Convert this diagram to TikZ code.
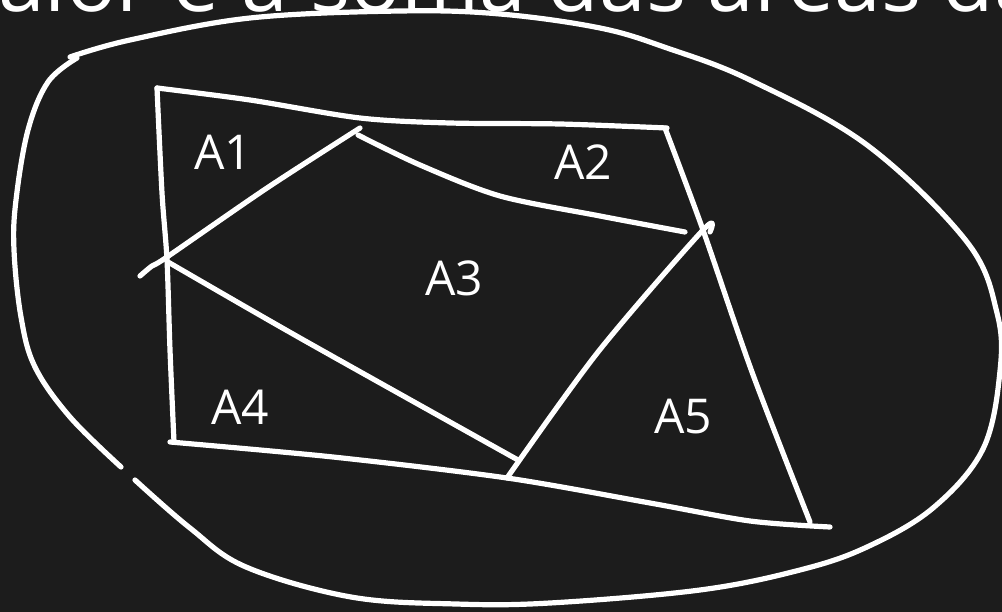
\documentclass[tikz,border=0pt]{standalone}
\usepackage{fontspec}
\setmainfont{Open Sans}
\usepackage{xcolor}
\usepackage{tikz}

\definecolor{board}{RGB}{28,28,28}
\tikzset{
  chalk/.style={white, line width=5.2pt, line cap=round, line join=round},
  arealabel/.style={text=white, font=\fontsize{48}{48}\selectfont, inner sep=0pt}
}

\begin{document}
\begin{tikzpicture}[x=1pt, y=-1pt]
            \fill[board] (0,0) rectangle (1002,612);
            \useasboundingbox (0,0) rectangle (1002,612);
            \clip (0,0) rectangle (1002,612);
            % heading, cut off by the top of the frame
            \node[anchor=base west, text=white, inner sep=0pt,
                  font=\fontsize{84}{90}\selectfont] (heading) at (-2,12) {alor é a soma das áreas da};
            % outer closed curve
            \draw[chalk] plot[smooth, tension=0.6] coordinates {(135,480) (190,528) (246,567) (351,597) (456,604) (550,603) (700,590) (800,570) (867,547) (933,508) (983,449) (1000,371) (997,313) (967,242) (867,145) (750,80) (667,48) (600,28) (500,14) (400,11) (250,18) (130,40) (70,57)};
            \draw[chalk] plot[smooth, tension=0.6] coordinates {(77,58) (48,82) (28,130) (16,200) (14,250) (21,317) (35,367) (70,417) (121,467)};
            % the region
            \draw[chalk] plot[smooth] coordinates {(157,88) (250,100) (360,118) (450,123) (560,124) (667,128)};
            \draw[chalk] plot[smooth] coordinates {(665,128) (703,230) (752,372) (810,522)};
            \draw[chalk] plot[smooth] coordinates {(170,442) (333,457) (507,478) (650,503) (750,521) (830,527)};
            \draw[chalk] plot[smooth] coordinates {(157,88) (162,193) (167,260) (170,350) (174,442)};
            % inner cuts
            \draw[chalk] plot[smooth] coordinates {(140,276) (152,266) (167,257) (267,188) (360,128)};
            \draw[chalk] plot[smooth] coordinates {(358,135) (420,165) (500,196) (600,216) (685,232)};
            \draw[chalk] plot[smooth] coordinates {(168,262) (300,338) (518,460)};
            \draw[chalk] plot[smooth] coordinates {(507,478) (598,352) (703,230) (710,232)};
            % areas
            \node[arealabel] (a1) at (223,152) {A1};
            \node[arealabel] (a2) at (583,162) {A2};
            \node[arealabel] (a3) at (454,278) {A3};
            \node[arealabel] (a4) at (240,407) {A4};
            \node[arealabel] (a5) at (683,417) {A5};
        \end{tikzpicture}
\end{document}
